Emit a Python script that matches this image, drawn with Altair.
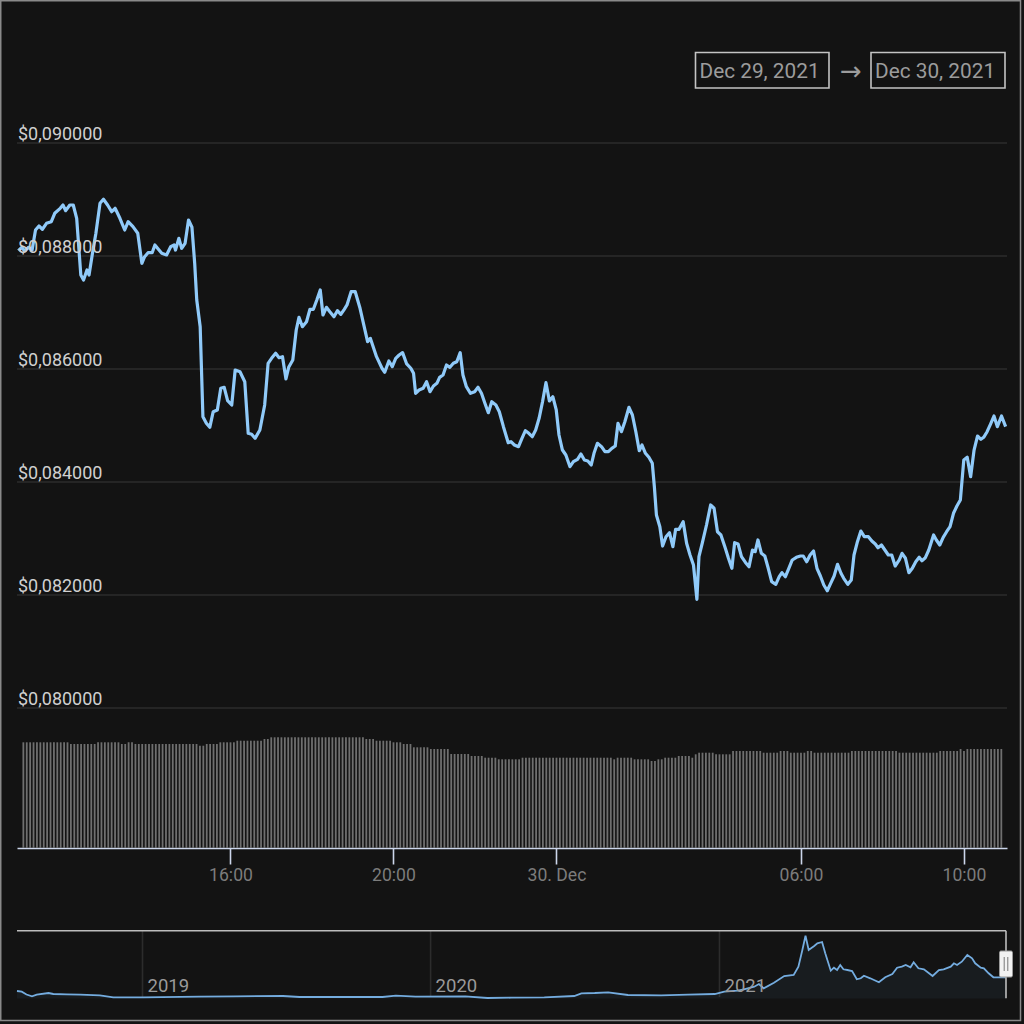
import altair as alt
import pandas as pd

# ---------------- data ----------------
# price series: minutes after 2021-12-29 00:00 and price in USD
PRICE_MINUTES = [
    655, 660, 664, 670, 675, 680, 685, 690, 696, 703,
    708, 716, 720, 724, 730, 735, 740, 743, 746, 750,
    755, 758, 763, 768, 774, 779, 785, 791, 796, 803,
    810, 815, 822, 829, 835, 839, 844, 850, 854, 860,
    864, 871, 877, 882, 884, 889, 893, 898, 903, 908,
    912, 915, 920, 924, 929, 934, 939, 945, 950, 955,
    960, 966, 971, 978, 985, 990, 995, 1000, 1007, 1014,
    1019, 1024, 1030, 1035, 1040, 1045, 1049, 1055, 1060, 1064,
    1069, 1075, 1080, 1085, 1090, 1095, 1099, 1104, 1109, 1115,
    1120, 1125, 1130, 1134, 1140, 1146, 1153, 1164, 1168, 1177,
    1185, 1189, 1195, 1200, 1205, 1210, 1215, 1221, 1227, 1231,
    1234, 1239, 1245, 1250, 1255, 1260, 1265, 1269, 1274, 1279,
    1284, 1289, 1294, 1299, 1303, 1308, 1314, 1320, 1325, 1330,
    1335, 1340, 1345, 1351, 1356, 1362, 1369, 1373, 1378, 1384,
    1389, 1394, 1399, 1404, 1409, 1414, 1419, 1424, 1429, 1434,
    1439, 1443, 1448, 1453, 1459, 1464, 1470, 1475, 1480, 1485,
    1490, 1494, 1499, 1505, 1510, 1515, 1520, 1525, 1529, 1534,
    1539, 1545, 1550, 1555, 1560, 1564, 1569, 1574, 1579, 1582,
    1585, 1590, 1594, 1599, 1604, 1609, 1613, 1618, 1624, 1629,
    1634, 1639, 1644, 1647, 1652, 1658, 1664, 1669, 1674, 1679,
    1685, 1690, 1695, 1699, 1704, 1709, 1715, 1720, 1725, 1729,
    1733, 1738, 1743, 1748, 1753, 1759, 1764, 1768, 1773, 1778,
    1783, 1789, 1795, 1799, 1804, 1809, 1814, 1819, 1824, 1829,
    1834, 1839, 1844, 1849, 1854, 1858, 1864, 1869, 1873, 1878,
    1883, 1888, 1894, 1899, 1904, 1908, 1913, 1918, 1923, 1928,
    1933, 1939, 1943, 1948, 1953, 1958, 1963, 1968, 1972, 1977,
    1982, 1989, 1993, 1998, 2003, 2008, 2013, 2018, 2023, 2028,
    2033, 2038, 2043, 2048, 2053, 2058, 2062, 2067, 2072, 2077,
    2082, 2088, 2094,
]
PRICE_VALUES = [
    0.088094, 0.088154, 0.088089, 0.088154, 0.088106, 0.088460, 0.088531, 0.088473, 0.088579, 0.088607,
    0.088756, 0.088844, 0.088903, 0.088802, 0.088903, 0.088903, 0.088667, 0.088165, 0.087664, 0.087575,
    0.087752, 0.087664, 0.088048, 0.088402, 0.088933, 0.089004, 0.088903, 0.088784, 0.088844, 0.088667,
    0.088460, 0.088607, 0.088519, 0.088402, 0.087871, 0.087988, 0.088058, 0.088058, 0.088195, 0.088106,
    0.088048, 0.088018, 0.088165, 0.088195, 0.088106, 0.088313, 0.088136, 0.088225, 0.088637, 0.088508,
    0.087871, 0.087221, 0.086749, 0.085156, 0.085039, 0.084968, 0.085244, 0.085274, 0.085658, 0.085676,
    0.085439, 0.085363, 0.085982, 0.085952, 0.085775, 0.084862, 0.084844, 0.084773, 0.084920, 0.085363,
    0.086101, 0.086189, 0.086278, 0.086200, 0.086218, 0.085823, 0.086030, 0.086159, 0.086690, 0.086915,
    0.086749, 0.086837, 0.087057, 0.087057, 0.087221, 0.087398, 0.086956, 0.087092, 0.087014, 0.086926,
    0.087032, 0.086968, 0.087057, 0.087133, 0.087368, 0.087368, 0.087074, 0.086483, 0.086543, 0.086218,
    0.086013, 0.085942, 0.086142, 0.086041, 0.086189, 0.086248, 0.086289, 0.086089, 0.086013, 0.085924,
    0.085570, 0.085628, 0.085658, 0.085775, 0.085598, 0.085699, 0.085747, 0.085853, 0.085894, 0.086071,
    0.086030, 0.086101, 0.086129, 0.086289, 0.085894, 0.085687, 0.085570, 0.085598, 0.085676, 0.085570,
    0.085393, 0.085227, 0.085421, 0.085363, 0.085244, 0.084979, 0.084696, 0.084713, 0.084655, 0.084625,
    0.084773, 0.084908, 0.084862, 0.084802, 0.084920, 0.085127, 0.085421, 0.085758, 0.085434, 0.085510,
    0.085275, 0.084832, 0.084566, 0.084478, 0.084271, 0.084359, 0.084402, 0.084496, 0.084389, 0.084372,
    0.084301, 0.084508, 0.084685, 0.084625, 0.084536, 0.084536, 0.084596, 0.084637, 0.085039, 0.084890,
    0.085067, 0.085322, 0.085186, 0.084890, 0.084554, 0.084655, 0.084508, 0.084437, 0.084331, 0.083917,
    0.083416, 0.083209, 0.082867, 0.083032, 0.083103, 0.082855, 0.083163, 0.083163, 0.083297, 0.082915,
    0.082708, 0.082531, 0.081924, 0.082678, 0.082926, 0.083239, 0.083593, 0.083535, 0.083120, 0.083062,
    0.082844, 0.082649, 0.082472, 0.082926, 0.082903, 0.082678, 0.082572, 0.082501, 0.082796, 0.082767,
    0.082974, 0.082738, 0.082690, 0.082473, 0.082235, 0.082189, 0.082324, 0.082395, 0.082324, 0.082473,
    0.082620, 0.082667, 0.082690, 0.082690, 0.082589, 0.082708, 0.082779, 0.082473, 0.082336, 0.082177,
    0.082076, 0.082207, 0.082336, 0.082543, 0.082384, 0.082295, 0.082189, 0.082266, 0.082708, 0.082943,
    0.083132, 0.083032, 0.083032, 0.082956, 0.082903, 0.082837, 0.082885, 0.082796, 0.082708, 0.082708,
    0.082513, 0.082620, 0.082738, 0.082650, 0.082395, 0.082473, 0.082589, 0.082667, 0.082607, 0.082660,
    0.082796, 0.083062, 0.082973, 0.082885, 0.083021, 0.083120, 0.083209, 0.083446, 0.083575, 0.083681,
    0.084389, 0.084437, 0.084094, 0.084566, 0.084814, 0.084756, 0.084791, 0.084890, 0.085026, 0.085168,
    0.084979, 0.085168, 0.084979,
]

# 24h volume (arbitrary units), read as runs: each run lasts up to the given minute
VOL_RUN_END_MINUTES = [
    723, 764, 798, 808, 818, 914, 922, 943, 967, 1007,
    1017, 1155, 1170, 1195, 1210, 1227, 1250, 1280, 1311, 1331,
    1350, 1388, 1522, 1527, 1552, 1576, 1586, 1596, 1615, 1637,
    1640, 1647, 1671, 1696, 1742, 1766, 1781, 1806, 1815, 1870,
    1940, 2004, 2030, 2039, 2041, 2100,
]
VOL_RUN_VALUES = [
    1057, 1040, 1057, 1040, 1057, 1040, 1023, 1040, 1057, 1073,
    1090, 1107, 1090, 1073, 1057, 1040, 1007, 990, 940, 920,
    903, 887, 903, 887, 903, 887, 870, 887, 903, 920,
    903, 937, 953, 937, 970, 953, 970, 953, 970, 953,
    970, 953, 970, 990, 970, 990,
]
VOL_FIRST_MINUTE = 655
VOL_STEP_MINUTES = 5
VOL_BAR_COUNT = 289

# navigator (full history)
NAV_DATES = [
    "2018-07-26", "2018-08-01", "2018-08-07", "2018-08-14", "2018-08-20", "2018-09-04", "2018-09-10",
    "2018-09-27", "2018-10-14", "2018-11-08", "2018-11-25",
    "2019-01-02", "2019-03-14", "2019-04-26", "2019-06-28", "2019-07-19", "2019-08-30", "2019-11-01",
    "2019-11-18", "2019-12-13",
    "2020-02-14", "2020-03-13", "2020-04-12", "2020-05-24", "2020-07-01", "2020-07-10", "2020-07-27",
    "2020-08-13", "2020-09-07", "2020-10-19", "2020-11-22", "2020-12-26",
    "2021-01-07", "2021-01-24", "2021-02-01", "2021-02-14", "2021-02-20", "2021-02-26", "2021-03-11",
    "2021-03-24", "2021-04-05", "2021-04-11", "2021-04-16", "2021-04-20", "2021-04-24", "2021-05-01",
    "2021-05-05", "2021-05-11", "2021-05-15", "2021-05-22", "2021-05-26", "2021-05-30", "2021-06-03",
    "2021-06-07", "2021-06-12", "2021-06-18", "2021-06-24", "2021-06-29", "2021-07-03", "2021-07-11",
    "2021-07-22", "2021-07-30", "2021-08-08", "2021-08-14", "2021-08-20", "2021-08-25", "2021-08-31",
    "2021-09-04", "2021-09-10", "2021-09-17", "2021-09-28", "2021-10-06", "2021-10-12", "2021-10-21",
    "2021-10-25", "2021-10-29", "2021-11-04", "2021-11-11", "2021-11-17", "2021-11-21", "2021-11-28",
    "2021-12-02", "2021-12-08", "2021-12-14", "2021-12-30",
]
NAV_VALUES = [
    0.0302, 0.0274, 0.0162, 0.0090, 0.0154, 0.0222, 0.0182, 0.0170, 0.0154, 0.0130, 0.0050,
    0.0050, 0.0074, 0.0090, 0.0102, 0.0062, 0.0062, 0.0062, 0.0114, 0.0074,
    0.0090, 0.0022, 0.0034, 0.0050, 0.0102, 0.0210, 0.0222, 0.0250, 0.0142, 0.0130, 0.0154, 0.0182,
    0.0274, 0.0314, 0.0370, 0.0474, 0.0582, 0.0410, 0.0634, 0.0902, 0.0942, 0.1274, 0.1942,
    0.2514, 0.1942, 0.2102, 0.2210, 0.2262, 0.1810, 0.1114, 0.1234, 0.1142, 0.1342, 0.1170,
    0.1142, 0.1102, 0.0770, 0.0810, 0.0914, 0.0810, 0.0650, 0.0850, 0.0982, 0.1234, 0.1274,
    0.1342, 0.1250, 0.1450, 0.1210, 0.1170, 0.0902, 0.1142, 0.1170, 0.1274, 0.1410, 0.1342,
    0.1474, 0.1742, 0.1610, 0.1410, 0.1234, 0.1210, 0.1010, 0.0850, 0.0850,
]

PRICE_TICKS = [0.080, 0.082, 0.084, 0.086, 0.088, 0.090]
YEAR_TICKS = ["2019-01-01", "2020-01-01", "2021-01-01"]
YEAR_LABELS = ["2019", "2020", "2021"]
RANGE_LABELS = ["Dec 29, 2021", "Dec 30, 2021"]
RANGE_ARROW = ["\u2192"]

# ---------------- styling ----------------
BG = "#131313"
GRID = "#2c2c2c"
LINE = "#90caf9"
BAR = "#6f6f6f"
AXIS = "#ccd6eb"
FONT = "Roboto"

day0 = pd.Timestamp("2021-12-29")
price_df = pd.DataFrame({
    "time": [day0 + pd.Timedelta(minutes=m) for m, _ in zip(PRICE_MINUTES, PRICE_VALUES)],
    "price": [p for _, p in zip(PRICE_MINUTES, PRICE_VALUES)],
})

bar_minutes = [VOL_FIRST_MINUTE + VOL_STEP_MINUTES * i for i in range(VOL_BAR_COUNT)]
bar_vals = []
for m in bar_minutes:
    val = VOL_RUN_VALUES[-1]
    for end, v in zip(VOL_RUN_END_MINUTES, VOL_RUN_VALUES):
        if m <= end:
            val = v
            break
    bar_vals.append(val)
vol_df = pd.DataFrame({"time": [day0 + pd.Timedelta(minutes=m) for m in bar_minutes], "volume": bar_vals})

nav_df = pd.DataFrame({"date": pd.to_datetime(NAV_DATES[:len(NAV_VALUES)]), "value": NAV_VALUES[:len(NAV_DATES)]})
tick_df = pd.DataFrame({"price": PRICE_TICKS, "label": ["$" + f"{v:.6f}".replace(".", ",") for v in PRICE_TICKS]})
year_df = pd.DataFrame({"date": pd.to_datetime(YEAR_TICKS), "label": YEAR_LABELS})
one = pd.DataFrame({"k": [0]})

# ---------------- scales (pixel ranges inside one 1024x1024 canvas) ----------------
time_scale = alt.Scale(
    domain=[alt.DateTime(year=2021, month=12, date=29, hours=10, minutes=53),
            alt.DateTime(year=2021, month=12, date=30, hours=10, minutes=56)],
    range=[17, 1007])
price_scale = alt.Scale(domain=[0.080, 0.090], range=[708, 143], zero=False, nice=False)
vol_scale = alt.Scale(domain=[0, 1000], range=[848, 748], nice=False)
nav_x_scale = alt.Scale(domain=[alt.DateTime(year=2018, month=7, date=26),
                                alt.DateTime(year=2021, month=12, date=30)], range=[17, 1006])
nav_y_scale = alt.Scale(domain=[0.0022, 0.2522], range=[998, 935.5], zero=False, nice=False)

layers = []

# price grid lines
layers.append(alt.Chart(tick_df).mark_rule(color=GRID, strokeWidth=1.6).encode(
    y=alt.Y("price:Q", scale=price_scale, axis=None),
    x=alt.value(17), x2=alt.value(1007)))

# price line
layers.append(alt.Chart(price_df).mark_line(color=LINE, strokeWidth=3.2, strokeJoin="round").encode(
    x=alt.X("time:T", scale=time_scale, axis=None),
    y=alt.Y("price:Q", scale=price_scale, axis=None)))

# price labels
layers.append(alt.Chart(tick_df).mark_text(align="left", baseline="alphabetic", dy=-3, font=FONT,
                                           fontSize=18, color="#d0d0d0").encode(
    y=alt.Y("price:Q", scale=price_scale, axis=None),
    x=alt.value(18), text="label:N"))

# volume bars with time axis
time_axis = alt.Axis(
    orient="bottom", offset=848 - 1024, title=None, grid=False,
    values=[alt.DateTime(year=2021, month=12, date=29, hours=16),
            alt.DateTime(year=2021, month=12, date=29, hours=20),
            alt.DateTime(year=2021, month=12, date=30, hours=0),
            alt.DateTime(year=2021, month=12, date=30, hours=6),
            alt.DateTime(year=2021, month=12, date=30, hours=10)],
    labelExpr="hours(datum.value) == 0 ? timeFormat(datum.value, '%d. %b') : timeFormat(datum.value, '%H:%M')",
    tickSize=16, tickColor=AXIS, tickWidth=1.6, domainColor=AXIS, domainWidth=1.6,
    labelColor="#7c7c7c", labelFont=FONT, labelFontSize=17.6, labelPadding=16.7,
    labelBaseline="alphabetic", labelFlush=False, labelOverlap=False)
layers.append(alt.Chart(vol_df).mark_bar(color=BAR, size=1.8).encode(
    x=alt.X("time:T", scale=time_scale, axis=time_axis),
    y=alt.Y("volume:Q", scale=vol_scale, axis=None)))

# navigator
layers.append(alt.Chart(year_df).mark_rule(color=GRID, strokeWidth=1.6).encode(
    x=alt.X("date:T", scale=nav_x_scale, axis=None), y=alt.value(931), y2=alt.value(997)))
layers.append(alt.Chart(nav_df).mark_area(color="#7cb5ec", opacity=0.06).encode(
    x=alt.X("date:T", scale=nav_x_scale, axis=None),
    y=alt.Y("value:Q", scale=nav_y_scale, axis=None), y2=alt.value(998)))
layers.append(alt.Chart(nav_df).mark_line(color="#74acdf", strokeWidth=1.8).encode(
    x=alt.X("date:T", scale=nav_x_scale, axis=None),
    y=alt.Y("value:Q", scale=nav_y_scale, axis=None)))
layers.append(alt.Chart(year_df).mark_text(align="left", baseline="alphabetic", dx=5, font=FONT,
                                           fontSize=18.5, color="#9a9a9a").encode(
    x=alt.X("date:T", scale=nav_x_scale, axis=None), y=alt.value(991.7), text="label:N"))
layers.append(alt.Chart(one).mark_rule(color="#bdbdbd", strokeWidth=1.6).encode(
    x=alt.value(17), x2=alt.value(1006), y=alt.value(930.7)))
layers.append(alt.Chart(one).mark_rule(color="#bdbdbd", strokeWidth=1.6).encode(
    x=alt.value(1006), y=alt.value(930.7), y2=alt.value(998.3)))
layers.append(alt.Chart(one).mark_rect(fill="#f2f2f2", stroke="#9a9a9a", strokeWidth=1, cornerRadius=1.5).encode(
    x=alt.value(999.5), x2=alt.value(1012.5), y=alt.value(951), y2=alt.value(977)))
for hx in (1004.2, 1007.8):
    layers.append(alt.Chart(one).mark_rule(color="#777777", strokeWidth=1).encode(
        x=alt.value(hx), y=alt.value(957), y2=alt.value(971)))

# range selector boxes
box_pos = [(695.5, 829), (871, 1005)]
for label, (bx0, bx1) in zip(RANGE_LABELS, box_pos):
    d = pd.DataFrame({"label": [label]})
    layers.append(alt.Chart(d).mark_rect(fillOpacity=0, stroke="#c4c4c4", strokeWidth=1.6).encode(
        x=alt.value(bx0), x2=alt.value(bx1), y=alt.value(52.5), y2=alt.value(88)))
    layers.append(alt.Chart(d).mark_text(align="left", baseline="alphabetic", font=FONT, fontSize=20.8,
                                         color="#9c9c9c").encode(
        x=alt.value(bx0 + 4), y=alt.value(77.5), text="label:N"))
layers.append(alt.Chart(pd.DataFrame({"label": RANGE_ARROW})).mark_text(
    align="center", baseline="middle", font="DejaVu Sans", fontSize=26, color="#9c9c9c").encode(
    x=alt.value(851), y=alt.value(72), text="label:N"))

# outer frame
layers.append(alt.Chart(one).mark_rect(fillOpacity=0, stroke="#8a8a8a", strokeWidth=1.5).encode(
    x=alt.value(0.75), x2=alt.value(1020.5), y=alt.value(0.75), y2=alt.value(1020.5)))

chart = alt.layer(*layers).resolve_scale(x="independent", y="independent").properties(
    width=1024, height=1024, padding=0, background=BG,
    autosize=alt.AutoSizeParams(type="none"),
).configure_view(stroke=None)

chart.save("out.html", embed_options={"renderer": "svg", "actions": False})
